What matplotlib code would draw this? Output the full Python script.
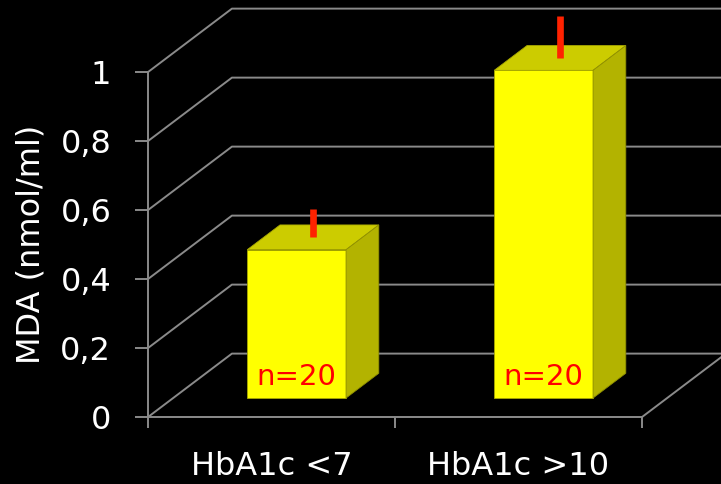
import matplotlib
matplotlib.use('Agg')
import matplotlib.pyplot as plt
from matplotlib.patches import Polygon

# данные
groups = ['HbA1c <7', 'HbA1c >10']
mda = [0.43, 0.95]
sd = [0.08, 0.12]
n_labels = ['n=20', 'n=20']
yticks = [0, 0.2, 0.4, 0.6, 0.8, 1.0]
ytick_labels = ['0', '0,2', '0,4', '0,6', '0,8', '1']

# псевдо-3D: смещение задней стенки (в единицах категорий и значений)
DX, DY = 0.34, 0.184
D0, D1 = 0.30, 0.69   # глубина столбика
BAR_W = 0.40

grid_c = '#8a8a8a'
front_c, top_c, side_c = '#ffff00', '#cccc00', '#b3b300'
err_c = '#ff2200'


def proj(x, y, d):
    return x + DX * d, y + DY * d


fig = plt.figure(figsize=(7.21, 4.84), dpi=100, facecolor='black')
ax = fig.add_axes([0, 0, 1, 1], facecolor='black')
ax.set_xlim(-0.599, 2.320)
ax.set_ylim(-0.194, 1.209)

# сетка: диагональ по левой стенке + линия по задней стенке
for v in yticks:
    x1, y1 = proj(0, v, 1)
    x2, _ = proj(len(groups), v, 1)
    ax.plot([0, x1, x2], [v, y1, y1], color=grid_c, lw=1.4, zorder=1)
# правый край пола
xf, yf = proj(len(groups), 0, 1)
ax.plot([len(groups), xf], [0, yf], color=grid_c, lw=1.4, zorder=1)

# столбики
for i, (val, err, lab) in enumerate(zip(mda, sd, n_labels)):
    xl = i + 0.5 - BAR_W / 2
    xr = i + 0.5 + BAR_W / 2
    fbl = proj(xl, 0, D0)
    fbr = proj(xr, 0, D0)
    ftl = proj(xl, val, D0)
    ftr = proj(xr, val, D0)
    bbr = proj(xr, 0, D1)
    btl = proj(xl, val, D1)
    btr = proj(xr, val, D1)
    ax.add_patch(Polygon([fbl, fbr, ftr, ftl], closed=True, facecolor=front_c,
                         edgecolor='#a8a800', lw=0.6, zorder=3))
    ax.add_patch(Polygon([ftl, ftr, btr, btl], closed=True, facecolor=top_c,
                         edgecolor='#a8a800', lw=0.6, zorder=3))
    ax.add_patch(Polygon([fbr, bbr, btr, ftr], closed=True, facecolor=side_c,
                         edgecolor='#8f8f00', lw=0.6, zorder=3))
    # планка погрешности (только вверх)
    ex, ey0 = proj(i + 0.5, val, 0.5)
    _, ey1 = proj(i + 0.5, val + err, 0.5)
    ax.plot([ex, ex], [ey0, ey1], color=err_c, lw=4.8,
            solid_capstyle='butt', zorder=4)
    tx, ty = proj(i + 0.5, 0.038, D0)
    ax.text(tx, ty, lab, color='#ff0000', fontsize=21, ha='center',
            va='baseline', zorder=5)

# оси
for s in ['top', 'right']:
    ax.spines[s].set_visible(False)
ax.spines['left'].set_position(('data', 0))
ax.spines['left'].set_bounds(0, 1)
ax.spines['bottom'].set_position(('data', 0))
ax.spines['bottom'].set_bounds(0, len(groups))
for s in ['left', 'bottom']:
    ax.spines[s].set_color(grid_c)
    ax.spines[s].set_linewidth(1.4)
    ax.spines[s].set_zorder(2)

ax.set_yticks(yticks)
ax.set_yticklabels(ytick_labels)
ax.tick_params(axis='y', length=9.4, width=1.4, color=grid_c, pad=17,
               labelsize=23, labelcolor='white')

ax.set_xticks(range(len(groups) + 1))
ax.set_xticklabels([])
ax.set_xticks([i + 0.5 for i in range(len(groups))], minor=True)
ax.set_xticklabels(groups, minor=True)
ax.tick_params(axis='x', which='major', length=8, width=1.4, color=grid_c)
ax.tick_params(axis='x', which='minor', length=0, pad=24.5, labelsize=23,
               labelcolor='white')

fig.text(31 / 721, 1 - 244.5 / 484, 'MDA (nmol/ml)', rotation=90, color='white',
         fontsize=23, ha='center', va='center')

fig.savefig('out.png', dpi=100, facecolor='black')
